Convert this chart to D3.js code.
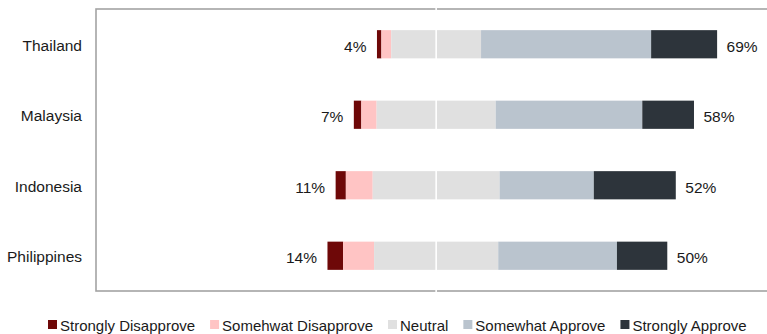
<!DOCTYPE html>
<html>
<head>
<meta charset="utf-8">
<script src="https://cdn.jsdelivr.net/npm/d3@7"></script>
<style>
  body { margin: 0; background: #fff; }
  svg { display: block; font-family: "Liberation Sans", Arial, sans-serif; }
</style>
</head>
<body>
<div id="chart"></div>
<script>
const countries = ['Thailand', 'Malaysia', 'Indonesia', 'Philippines'];
const responses = ['Strongly Disapprove', 'Somehwat Disapprove', 'Neutral', 'Somewhat Approve', 'Strongly Approve'];
const stronglyDisapprove = [1.3, 2.2, 3.0, 4.6];
const somewhatDisapprove = [2.9, 4.5, 7.9, 9.1];
const neutral = [26.4, 35.0, 37.3, 36.5];
const somewhatApprove = [50.0, 43.1, 27.7, 34.9];
const stronglyApprove = [19.4, 15.2, 24.1, 14.8];
const disapproveLabels = ['4%', '7%', '11%', '14%'];
const approveLabels = ['69%', '58%', '52%', '50%'];

const colors = ['#6e0808', '#ffc4c4', '#e0e0e0', '#bac4ce', '#2d343b'];

const WIDTH = 767;
const HEIGHT = 334;
const LEFT = 96;
const TOP = 9;
const BOTTOM = 291;

const svg = d3.select('#chart').append('svg').attr('width', WIDTH).attr('height', HEIGHT);

const xScale = d3.scaleLinear().domain([-100, 100]).range([LEFT, 776.3]);
const yScale = d3.scaleBand().domain(countries).range([TOP, BOTTOM]).paddingInner(0.6).paddingOuter(0.3);

const seriesValues = [stronglyDisapprove, somewhatDisapprove, neutral, somewhatApprove, stronglyApprove];

// one row per country, each segment with start/end in percent, neutral centered on 0
const rows = countries.map((country, i) => {
  const start = -(stronglyDisapprove[i] + somewhatDisapprove[i] + neutral[i] / 2);
  let pos = start;
  const segments = seriesValues.map((values, k) => {
    const seg = { country, k, x0: pos, x1: pos + values[i] };
    pos += values[i];
    return seg;
  });
  return { country, i, start, end: pos, segments };
});

// frame
svg.append('rect')
  .attr('x', LEFT)
  .attr('y', TOP)
  .attr('width', xScale(100) - LEFT)
  .attr('height', BOTTOM - TOP)
  .attr('fill', 'none')
  .attr('stroke', '#a3a3a3')
  .attr('stroke-width', 1.6);

svg.append('g')
  .selectAll('rect')
  .data(rows.flatMap((r) => r.segments))
  .join('rect')
  .attr('x', (d) => xScale(d.x0))
  .attr('width', (d) => xScale(d.x1) - xScale(d.x0))
  .attr('y', (d) => yScale(d.country))
  .attr('height', yScale.bandwidth())
  .attr('fill', (d) => colors[d.k]);

// white zero line over everything
svg.append('line')
  .attr('x1', xScale(0))
  .attr('x2', xScale(0))
  .attr('y1', TOP - 2)
  .attr('y2', BOTTOM + 2)
  .attr('stroke', '#fff')
  .attr('stroke-width', 1.6);

const mid = (c) => yScale(c) + yScale.bandwidth() / 2;

svg.append('g')
  .selectAll('text')
  .data(countries)
  .join('text')
  .attr('x', 82)
  .attr('y', (d) => mid(d) + 6.5)
  .attr('text-anchor', 'end')
  .attr('font-size', 15.5)
  .attr('fill', '#1a1a1a')
  .text((d) => d);

svg.append('g')
  .selectAll('text')
  .data(rows)
  .join('text')
  .attr('x', (d) => xScale(d.start) - 10.5)
  .attr('y', (d) => mid(d.country) + 7.5)
  .attr('text-anchor', 'end')
  .attr('font-size', 15.5)
  .attr('fill', '#1a1a1a')
  .text((d) => disapproveLabels[d.i]);

svg.append('g')
  .selectAll('text')
  .data(rows)
  .join('text')
  .attr('x', (d) => xScale(d.end) + 9.5)
  .attr('y', (d) => mid(d.country) + 7.5)
  .attr('font-size', 15.5)
  .attr('fill', '#1a1a1a')
  .text((d) => approveLabels[d.i]);

// legend, laid out left to right from measured text widths
const legend = svg.append('g');
let lx = 48;
responses.forEach((name, k) => {
  legend.append('rect')
    .attr('x', lx)
    .attr('y', 320)
    .attr('width', 9)
    .attr('height', 9)
    .attr('fill', colors[k]);
  const t = legend.append('text')
    .attr('x', lx + 12)
    .attr('y', 331)
    .attr('font-size', 15)
    .attr('fill', '#1a1a1a')
    .text(name);
  lx += 12 + t.node().getComputedTextLength() + 15;
});
</script>
</body>
</html>
